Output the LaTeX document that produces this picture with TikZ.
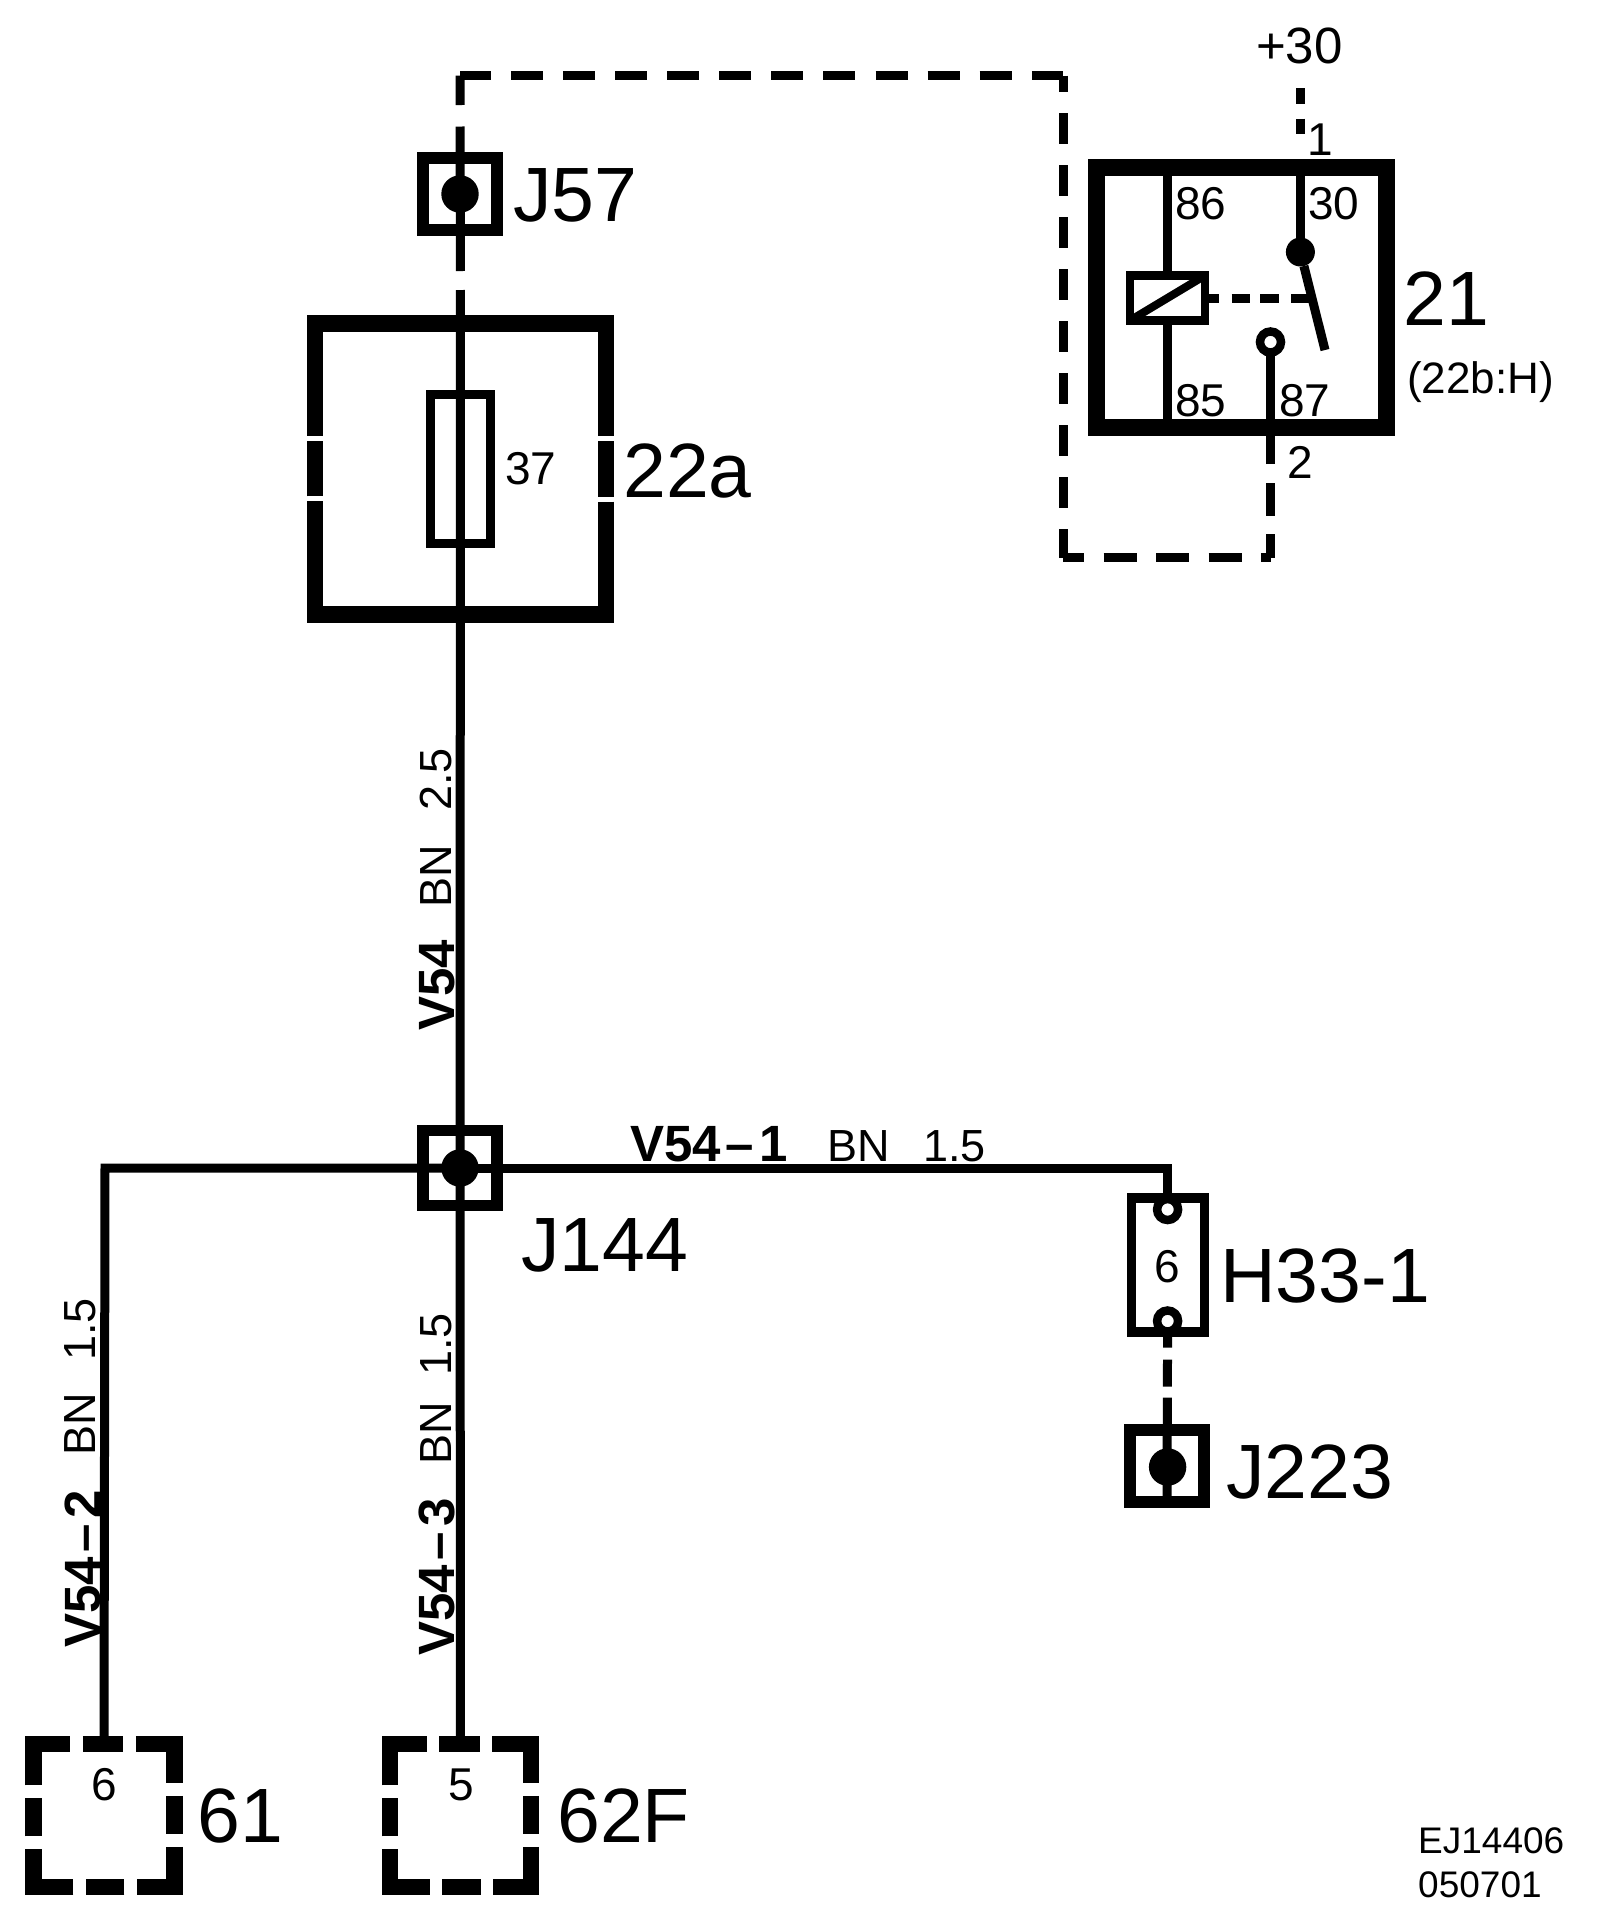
\documentclass[tikz,border=0pt]{standalone}
\usepackage{fontspec}
\setmainfont{Liberation Sans}
\usetikzlibrary{positioning}
\tikzset{
  wire/.style={line width=9pt},
  junc/.style={rectangle, draw, line width=11.5pt, minimum width=74pt, minimum height=72pt, inner sep=0pt, outer sep=0pt},
  dot/.style={circle, fill=black, minimum size=37.4pt, inner sep=0pt, outer sep=0pt},
  pin/.style={circle, draw, fill=white, line width=8.5pt, minimum size=21pt, inner sep=0pt, outer sep=0pt},
  thickbox/.style={rectangle, line width=17pt, inner sep=0pt, outer sep=0pt},
  thinbox/.style={rectangle, draw, line width=8.5pt, inner sep=0pt, outer sep=0pt},
  big/.style={font=\fontsize{77}{77}\selectfont, inner sep=0pt, anchor=base west},
  small/.style={font=\fontsize{46}{46}\selectfont, inner sep=0pt, anchor=base west},
  tiny/.style={font=\fontsize{37}{37}\selectfont, inner sep=0pt, anchor=base west},
  wlabel/.style={font=\fontsize{45}{45}\selectfont, inner sep=0pt, anchor=base west},
  wbold/.style={font=\bfseries\fontsize{51}{51}\selectfont, inner sep=0pt, anchor=base west}
}
\begin{document}
\begin{tikzpicture}[x=1pt, y=-1pt]
      \useasboundingbox (0,0) rectangle (1600,1912);
      % corners of the dashed run
      \coordinate (tl) at ( 460.0,  75.5);
      \coordinate (tr) at (1063.0,  75.5);
      \coordinate (br) at (1063.0, 557.5);
      \coordinate (bl) at (1270.5, 557.5);
      \coordinate (top30) at (1300.4, 88.0);
      \coordinate (armend) at (1325.0, 350.0);
      \coordinate (acttip) at (1311.0, 298.0);
      \coordinate (lcorner) at (105.0, 1168.0);
      \coordinate (rcorner) at (1167.6, 1168.0);
      % boxes
      \node [junc]                  (j57)  at ( 460.0,  194.0) {};
      \node [thickbox, minimum width=291pt, minimum height=291pt] (f22a) at ( 460.5, 469.0) {};
      \node [thinbox, minimum width=60pt, minimum height=149pt] (fuse) at ( 460.5, 469.0) {};
      \node [junc, minimum height=75pt] (j144) at ( 460.0, 1168.0) {};
      \node [thinbox, line width=9.5pt, minimum width=73pt, minimum height=134pt] (h33) at (1168.0, 1265.0) {};
      \node [junc]                  (j223) at (1167.0, 1466.0) {};
      \node [thickbox, draw, minimum width=290.5pt, minimum height=260.5pt] (relay) at (1241.7, 297.7) {};
      \node [rectangle, minimum width=141pt, minimum height=143pt, inner sep=0pt, outer sep=0pt] (c61)  at ( 104.0, 1815.5) {};
      \node [rectangle, minimum width=141pt, minimum height=143pt, inner sep=0pt, outer sep=0pt] (c62f) at ( 460.5, 1815.5) {};
      % dots and pins
      \node [dot]                   (d57)  at (j57.center) {};
      \node [dot]                   (d144) at (j144.center) {};
      \node [dot]                   (d223) at (1167.6, 1467.0) {};
      \node [dot, minimum size=29pt] (sw30) at (1300.4, 252.0) {};
      \node [thinbox, minimum width=75pt, minimum height=45pt] (coil) at (1167.5, 298.0) {};
      \node [pin]                   (ct87) at (1270.5, 342.0) {};
      \node [pin]                   (hup)  at (1167.6, 1209.5) {};
      \node [pin]                   (hlo)  at (1167.6, 1321.0) {};
      % solid wires
      \draw [wire] (f22a.north) -- (j144.north);
      \draw [wire] (j144.north) -- (c62f.north);
      \draw [wire] (j144.center) -- (lcorner) -- (c61.north);
      \draw [wire] (j144.center) -- (rcorner) -- (hup.north);
      \draw [wire] (coil.north) -- (coil.north |- relay.north);
      \draw [wire] (coil.south) -- (coil.south |- relay.south);
      \draw [wire] (sw30) -- (sw30 |- relay.north);
      \draw [wire] (ct87.south) -- (ct87 |- relay.south);
      \draw [wire] (sw30) -- (armend);
      \draw [line width=8pt, shorten >=2pt, shorten <=2pt] (coil.south west) -- (coil.north east);
      % dashed wires
      \draw [wire, dash pattern=on 29.5pt off 21.5pt on 144.5pt off 19pt] (tl) -- (f22a.north);
      \draw [wire, dash pattern=on 32pt off 20.1pt, dash phase=1.3pt] (tl) -- (tr);
      \draw [wire, dash pattern=on 31pt off 21pt, dash phase=14.5pt] (tr) -- (br);
      \draw [wire, dash pattern=on 33pt off 19.5pt, dash phase=12pt] (br) -- (bl);
      \draw [wire, dash pattern=on 33pt off 18.5pt, dash phase=9.5pt] (bl) -- (ct87 |- relay.south);
      \draw [wire, dash pattern=on 16pt off 14.6pt on 15.4pt off 100pt] (top30) -- (sw30 |- relay.north);
      \draw [wire, dash pattern=on 14pt off 12.5pt on 18pt off 10.5pt on 18.6pt off 12.4pt on 30pt off 1pt] (coil.east) -- (acttip);
      \draw [wire, dash pattern=on 16pt off 12pt on 27pt off 11pt on 200pt off 1pt] (hlo.south) -- (j223.south);
      % broken outlines
      \draw [line width=16.5pt, dash pattern=on 258pt off 5pt on 55.6pt off 5pt on 517pt off 5pt on 55.6pt off 5pt on 258pt off 0pt]
            (f22a.north) -- (f22a.north east) -- (f22a.south east) -- (f22a.south west) -- (f22a.north west) -- cycle;
      \draw [line width=16.5pt, dash pattern=on 38.5pt off 12.5pt on 78pt off 12.5pt, dash phase=19.25pt]
            (c61.north) -- (c61.north east) -- (c61.south east) -- (c61.south west) -- (c61.north west) -- cycle;
      \draw [line width=16.5pt, dash pattern=on 38.5pt off 12.5pt on 78pt off 12.5pt, dash phase=19.25pt]
            (c62f.north) -- (c62f.north east) -- (c62f.south east) -- (c62f.south west) -- (c62f.north west) -- cycle;
      % names
      \node [big]                   (l57)   at ( 513.0,  221.0) {J57};
      \node [big]                   (l22a)  at ( 623.0,  497.0) {22a};
      \node [big]                   (l144)  at ( 521.0, 1271.0) {J144};
      \node [big]                   (lh33)  at (1220.0, 1302.0) {H33-1};
      \node [big]                   (l223)  at (1226.0, 1498.0) {J223};
      \node [big]                   (l61)   at ( 197.0, 1842.0) {61};
      \node [big]                   (l62f)  at ( 557.0, 1842.0) {62F};
      \node [big]                   (l21)   at (1403.0,  325.0) {21};
      \node [small, font=\fontsize{44}{44}\selectfont] (l2b) at (1407.0, 393.0) {(22b:H)};
      \node [small, font=\fontsize{51}{51}\selectfont] (l30) at (1256.0, 63.0) {+30};
      % pin numbers
      \node [small]                 (n1)    at (1307.0,  155.0) {1};
      \node [small]                 (n2)    at (1287.0,  478.0) {2};
      \node [small]                 (n86)   at (1175.0,  219.0) {86};
      \node [small]                 (n30)   at (1308.0,  219.0) {30};
      \node [small]                 (n85)   at (1175.0,  416.0) {85};
      \node [small]                 (n87)   at (1279.0,  416.0) {87};
      \node [small, anchor=base]    (n37)   at ( 531.0,  484.0) {37};
      \node [small, anchor=base]    (n6h)   at (1167.6, 1282.0) {6};
      \node [small, anchor=base]    (n6)    at ( 104.0, 1800.5) {6};
      \node [small, anchor=base]    (n5)    at ( 461.0, 1800.5) {5};
      % wire labels
      \node [wbold, rotate=90]      (v54)   at ( 454.0, 1031.0) {V54};
      \node [wlabel, rotate=90]     (bn54)  at ( 451.0,  908.0) {BN};
      \node [wlabel, rotate=90]     (s54)   at ( 451.0,  811.0) {2.5};
      \node [wbold]                 (v541)  at ( 630.0, 1161.0) {V54\kern5pt–\kern5pt1};
      \node [wlabel]                (bn541) at ( 827.0, 1161.0) {BN};
      \node [wlabel]                (s541)  at ( 923.0, 1161.0) {1.5};
      \node [wbold, rotate=90]      (v542)  at ( 100.0, 1648.0) {V54\kern5pt–\kern5pt2};
      \node [wlabel, rotate=90]     (bn542) at (  95.0, 1456.0) {BN};
      \node [wlabel, rotate=90]     (s542)  at (  95.0, 1361.0) {1.5};
      \node [wbold, rotate=90]      (v543)  at ( 454.0, 1656.0) {V54\kern5pt–\kern5pt3};
      \node [wlabel, rotate=90]     (bn543) at ( 451.0, 1465.0) {BN};
      \node [wlabel, rotate=90]     (s543)  at ( 451.0, 1376.0) {1.5};
      % drawing number
      \node [tiny]                  (code)  at (1418.0, 1853.0) {EJ14406};
      \node [tiny]                  (date)  at (1418.0, 1897.5) {050701};
\end{tikzpicture}
\end{document}
